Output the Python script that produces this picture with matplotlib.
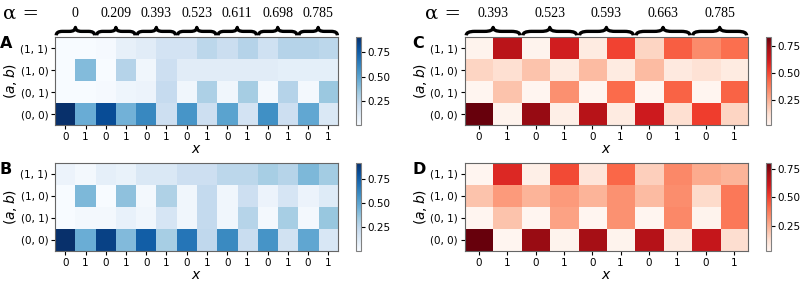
import numpy as np
import matplotlib.pyplot as plt
from matplotlib.path import Path
from matplotlib.patches import PathPatch
from matplotlib.transforms import blended_transform_factory

# Row labels (top to bottom) and x ticks
row_labels = ['(1, 1)', '(1, 0)', '(0, 1)', '(0, 0)']
alphas_left = ['0', '0.209', '0.393', '0.523', '0.611', '0.698', '0.785']
alphas_right = ['0.393', '0.523', '0.593', '0.663', '0.785']

# Panel A: P(a,b|x), columns = (alpha, x) pairs
A_11 = [0.01, 0.01, 0.02, 0.08, 0.11, 0.17, 0.17, 0.26, 0.21, 0.28, 0.19, 0.28, 0.28, 0.26]
A_10 = [0.01, 0.40, 0.01, 0.28, 0.04, 0.20, 0.11, 0.11, 0.11, 0.11, 0.11, 0.09, 0.09, 0.09]
A_01 = [0.01, 0.01, 0.02, 0.05, 0.06, 0.23, 0.04, 0.30, 0.04, 0.32, 0.03, 0.28, 0.03, 0.35]
A_00 = [0.90, 0.46, 0.80, 0.44, 0.60, 0.20, 0.55, 0.20, 0.50, 0.17, 0.57, 0.20, 0.48, 0.14]

# Panel B
B_11 = [0.06, 0.03, 0.09, 0.07, 0.14, 0.14, 0.20, 0.20, 0.26, 0.26, 0.32, 0.28, 0.42, 0.33]
B_10 = [0.01, 0.42, 0.01, 0.38, 0.03, 0.30, 0.04, 0.24, 0.04, 0.20, 0.06, 0.16, 0.06, 0.12]
B_01 = [0.01, 0.03, 0.03, 0.08, 0.04, 0.16, 0.04, 0.24, 0.04, 0.28, 0.03, 0.32, 0.03, 0.36]
B_00 = [0.91, 0.46, 0.85, 0.41, 0.75, 0.32, 0.67, 0.25, 0.60, 0.22, 0.56, 0.18, 0.49, 0.15]

# Panel C
C_11 = [0.03, 0.67, 0.03, 0.61, 0.07, 0.51, 0.15, 0.45, 0.34, 0.41]
C_10 = [0.15, 0.12, 0.20, 0.07, 0.22, 0.07, 0.22, 0.08, 0.11, 0.07]
C_01 = [0.02, 0.20, 0.02, 0.33, 0.02, 0.42, 0.02, 0.44, 0.02, 0.44]
C_00 = [0.83, 0.03, 0.75, 0.05, 0.68, 0.07, 0.62, 0.12, 0.52, 0.15]

# Panel D
D_11 = [0.03, 0.56, 0.06, 0.48, 0.10, 0.42, 0.17, 0.34, 0.26, 0.24]
D_10 = [0.20, 0.30, 0.24, 0.30, 0.24, 0.32, 0.22, 0.33, 0.14, 0.38]
D_01 = [0.03, 0.20, 0.03, 0.28, 0.03, 0.32, 0.03, 0.34, 0.04, 0.38]
D_00 = [0.80, 0.03, 0.72, 0.04, 0.70, 0.04, 0.66, 0.08, 0.62, 0.13]

fig = plt.figure(figsize=(8, 2.81), dpi=100)
fs = 7.5


def brace(ax, x0, x1, y0, h, q=0.3):
    # horizontal curly brace (tip up), x in data, y in axes fraction
    xm, ym = (x0 + x1) / 2, y0 + h / 2
    verts = [(x0, y0), (x0, ym), (x0 + q, ym), (xm - q, ym), (xm, ym), (xm, y0 + h),
             (xm, ym), (xm + q, ym), (x1 - q, ym), (x1, ym), (x1, y0)]
    codes = [Path.MOVETO, Path.CURVE3, Path.CURVE3, Path.LINETO, Path.CURVE3, Path.CURVE3,
             Path.CURVE3, Path.CURVE3, Path.LINETO, Path.CURVE3, Path.CURVE3]
    tr = blended_transform_factory(ax.transData, ax.transAxes)
    ax.add_patch(PathPatch(Path(verts, codes), fill=False, lw=2.4, color='black',
                           transform=tr, clip_on=False, capstyle='butt', joinstyle='round'))


def panel(rect, crect, rows, cmap, letter, alphas=None):
    ax = fig.add_axes(rect)
    data = np.array(rows)
    im = ax.imshow(data, cmap=cmap, aspect='auto', interpolation='nearest')
    ncol = data.shape[1]
    ax.set_xticks(range(ncol))
    ax.set_xticklabels(['0', '1'] * (ncol // 2), fontsize=fs)
    ax.set_yticks(range(4))
    ax.set_yticklabels(row_labels, fontsize=fs)
    ax.tick_params(length=3, pad=2)
    ax.set_xlabel(r'$x$', fontsize=10, labelpad=0)
    ax.set_ylabel(r'$(a, b)$', fontsize=10, labelpad=1)
    for s in ax.spines.values():
        s.set_color('0.4')
    cax = fig.add_axes(crect)
    cb = fig.colorbar(im, cax=cax, ticks=[0.25, 0.5, 0.75])
    cb.outline.set_edgecolor('0.5')
    cb.ax.tick_params(labelsize=fs, length=3, pad=2)
    ax.text(-0.195 if ncol == 14 else -0.184, 0.93, letter, transform=ax.transAxes,
            fontsize=11.5, fontweight='bold', ha='left', va='center')
    if alphas is not None:
        tr = blended_transform_factory(ax.transData, ax.transAxes)
        for k, a in enumerate(alphas):
            brace(ax, 2 * k - 0.45, 2 * k + 1.45, 1.02, 0.09)
            ax.text(2 * k + 0.5, 1.27, a, transform=tr, ha='center', va='center',
                    fontsize=10, family='Liberation Serif')
    return ax


w, h = 0.354, 0.313
panel([0.069, 0.555, w, h], [0.445, 0.555, 0.006, h], [A_11, A_10, A_01, A_00], 'Blues', 'A', alphas_left)
panel([0.069, 0.107, w, h], [0.445, 0.107, 0.006, h], [B_11, B_10, B_01, B_00], 'Blues', 'B')
panel([0.581, 0.555, w, h], [0.9575, 0.555, 0.006, h], [C_11, C_10, C_01, C_00], 'Reds', 'C', alphas_right)
panel([0.581, 0.107, w, h], [0.9575, 0.107, 0.006, h], [D_11, D_10, D_01, D_00], 'Reds', 'D')

fig.text(0.004, 0.952, 'α =', fontsize=14, va='center', ha='left', family='DejaVu Serif')
fig.text(0.531, 0.952, 'α =', fontsize=14, va='center', ha='left', family='DejaVu Serif')

fig.savefig('out.png', dpi=100)
